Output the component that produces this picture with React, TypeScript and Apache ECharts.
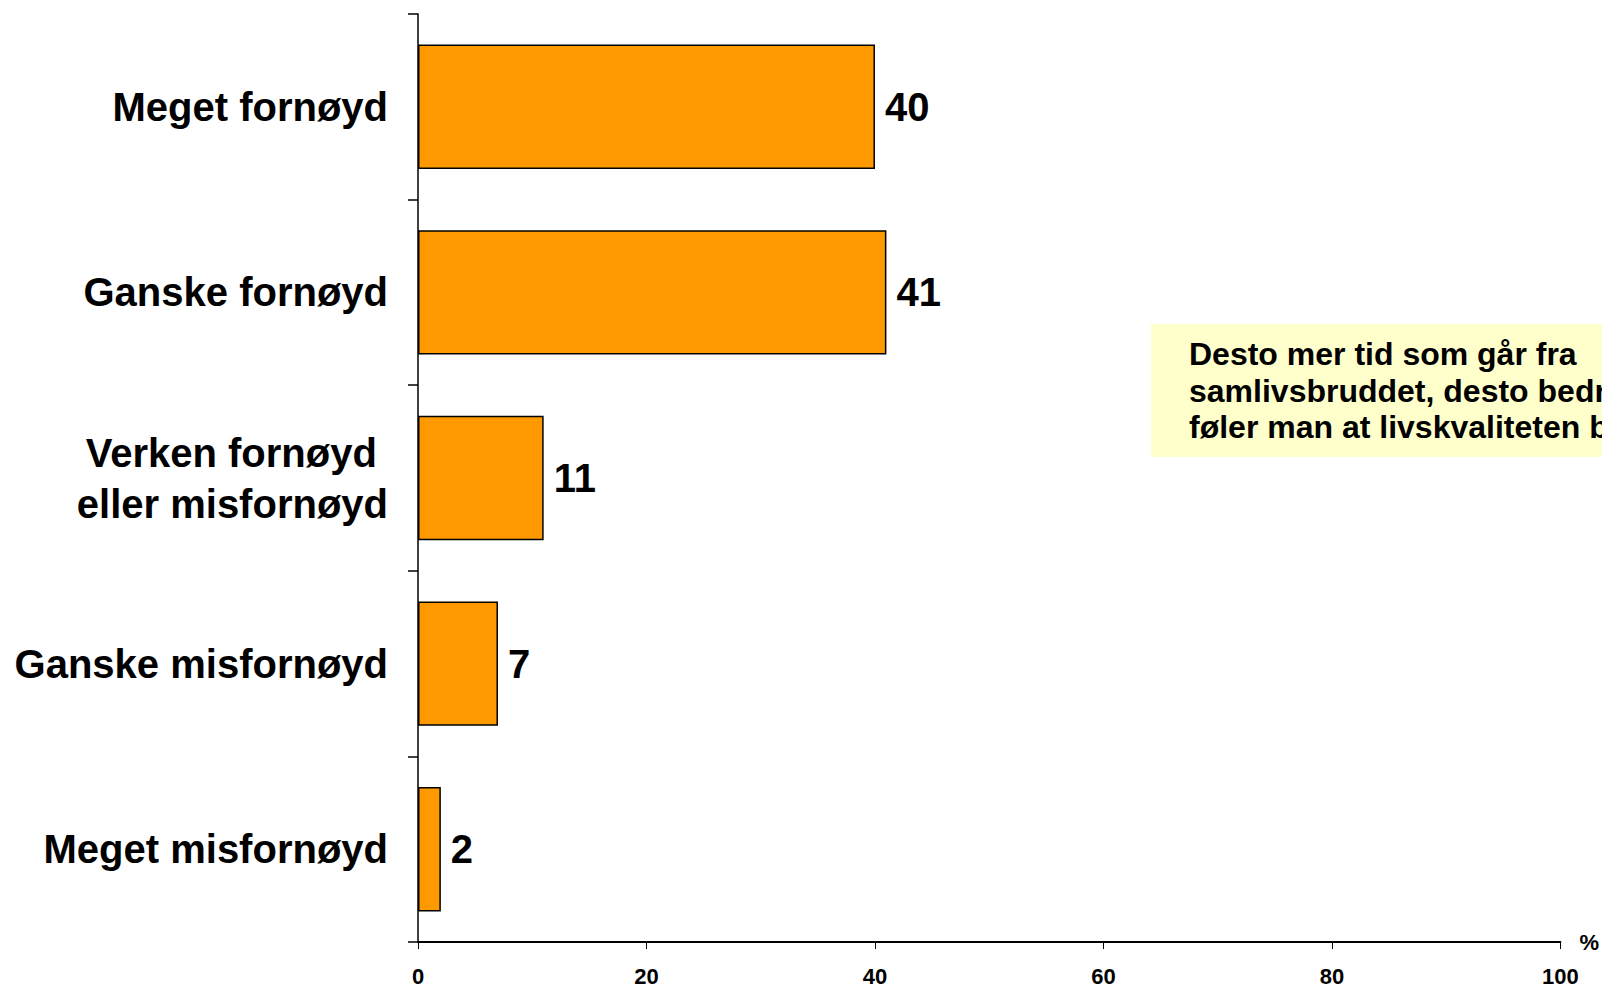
import React, { useEffect, useRef } from "react";
import * as echarts from "echarts";

const categories = [
  "Meget fornøyd",
  "Ganske fornøyd",
  "Verken fornøyd \neller misfornøyd",
  "Ganske misfornøyd",
  "Meget misfornøyd",
];
const values = [40, 41, 11, 7, 2];
const xTicks = { min: 0, max: 100, interval: 20 };
const axisName = "%";
const noteLines = [
  "Desto mer tid som går fra",
  "samlivsbruddet, desto bedre",
  "føler man at livskvaliteten blir",
];

const FONT = "'Liberation Sans', Arial, sans-serif";

export default function App() {
  const ref = useRef<HTMLDivElement>(null);
  useEffect(() => {
    if (!ref.current) return;
    const chart = echarts.init(ref.current, undefined, { renderer: "svg" });
    chart.setOption({
      animation: false,
      backgroundColor: "#ffffff",
      grid: { left: 418, right: 39, top: 14, bottom: 44, containLabel: false },
      xAxis: {
        type: "value",
        min: xTicks.min,
        max: xTicks.max,
        interval: xTicks.interval,
        name: axisName,
        nameLocation: "end",
        nameGap: 19,
        nameTextStyle: { fontFamily: FONT, fontWeight: "bold", fontSize: 22, color: "#000", verticalAlign: "middle" },
        axisLine: { show: true, lineStyle: { color: "#000", width: 2 } },
        axisTick: { show: true, length: 7, lineStyle: { color: "#000", width: 1 } },
        splitLine: { show: false },
        axisLabel: { fontFamily: FONT, fontWeight: "bold", fontSize: 22, color: "#000", margin: 23 },
      },
      yAxis: {
        type: "category",
        data: categories,
        inverse: true,
        axisLine: { show: true, lineStyle: { color: "#000", width: 1.5 } },
        axisTick: { show: true, length: 10, inside: false, lineStyle: { color: "#000", width: 1.5 } },
        axisLabel: {
          fontFamily: FONT,
          fontWeight: "bold",
          fontSize: 40,
          lineHeight: 51,
          color: "#000",
          margin: 30,
          align: "right",
        },
      },
      series: [
        {
          type: "bar",
          data: values,
          barCategoryGap: "33%",
          itemStyle: { color: "#FF9900", borderColor: "#000", borderWidth: 1.5 },
          label: {
            show: true,
            position: "right",
            distance: 10,
            fontFamily: FONT,
            fontWeight: "bold",
            fontSize: 40,
            color: "#000",
          },
        },
      ],
      graphic: [
        {
          type: "rect",
          shape: { x: 1151, y: 324, width: 460, height: 133 },
          style: { fill: "#FFFFCC" },
          z: 10,
        },
        {
          type: "text",
          x: 1189,
          y: 336,
          z: 11,
          style: {
            text: noteLines.join("\n"),
            fontFamily: FONT,
            fontWeight: "bold",
            fontSize: 32,
            lineHeight: 36.5,
            fill: "#000",
            verticalAlign: "top",
          },
        },
      ],
    });
    return () => chart.dispose();
  }, []);
  return (
    <div
      ref={ref}
      style={{ position: "fixed", left: 0, top: 0, width: 1602, height: 987, overflow: "hidden" }}
    />
  );
}
